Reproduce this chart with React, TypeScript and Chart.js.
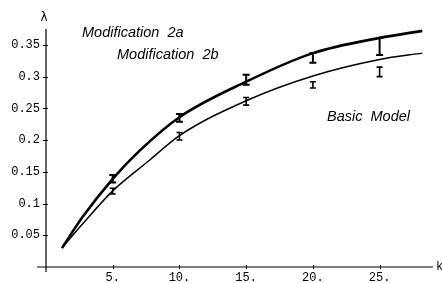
import React, { useEffect, useRef } from "react";
import { Chart, registerables } from "chart.js";

Chart.register(...registerables);

// Modification 2a / 2b (thick curve)
const upperX = [1.2, 2.75, 5, 7.0, 10, 15, 20, 25, 28.2];
const upperY = [0.03, 0.079, 0.139, 0.183, 0.236, 0.292, 0.337, 0.361, 0.372];
// Basic Model (thin curve)
const lowerX = [1.2, 2.75, 5, 7.8, 10, 15, 20, 25, 28.2];
const lowerY = [0.03, 0.068, 0.12, 0.169, 0.207, 0.262, 0.301, 0.327, 0.337];

// error bars
const errX = [5, 10, 15, 20, 25];
const upperErrLo = [0.133, 0.229, 0.287, 0.322, 0.334];
const upperErrHi = [0.145, 0.241, 0.303, 0.337, 0.361];
const lowerErrLo = [0.115, 0.2, 0.255, 0.282, 0.3];
const lowerErrHi = [0.124, 0.212, 0.267, 0.292, 0.315];

const xTickValues = [5, 10, 15, 20, 25];
const xTickLabels = ["5.", "10.", "15.", "20.", "25."];
const yTickValues = [0.05, 0.1, 0.15, 0.2, 0.25, 0.3, 0.35];
const yTickLabels = ["0.05", "0.1", "0.15", "0.2", "0.25", "0.3", "0.35"];

const labelTexts = ["Modification  2a", "Modification  2b", "Basic  Model"];
const yAxisTitle = "λ";
const xAxisTitle = "k";

const MONO = "'Liberation Mono', 'DejaVu Sans Mono', monospace";
const SANS = "'Liberation Sans', Arial, sans-serif";

const decorPlugin = {
  id: "decor",
  afterDatasetsDraw(chart: any) {
    const ctx = chart.ctx;
    const xs = chart.scales.x;
    const ys = chart.scales.y;
    const x0 = xs.getPixelForValue(0);
    const y0 = ys.getPixelForValue(0);
    ctx.save();
    ctx.strokeStyle = "#000";
    ctx.fillStyle = "#000";
    ctx.lineWidth = 1.2;
    // axes
    ctx.beginPath();
    ctx.moveTo(x0 - 9, y0);
    ctx.lineTo(xs.right, y0);
    ctx.moveTo(x0, ys.top);
    ctx.lineTo(x0, y0 + 5);
    ctx.stroke();
    // ticks
    ctx.lineWidth = 1;
    ctx.beginPath();
    yTickValues.forEach((v) => {
      const py = Math.round(ys.getPixelForValue(v)) + 0.5;
      ctx.moveTo(x0 - 3, py);
      ctx.lineTo(x0 + 2, py);
    });
    xTickValues.forEach((v) => {
      const px = Math.round(xs.getPixelForValue(v)) + 0.5;
      ctx.moveTo(px, y0 - 2);
      ctx.lineTo(px, y0 + 2);
    });
    ctx.stroke();
    // error bars
    const drawBar = (x: number, lo: number, hi: number, cap: number, lw: number) => {
      const px = xs.getPixelForValue(x);
      const pl = ys.getPixelForValue(lo);
      const ph = ys.getPixelForValue(hi);
      ctx.lineWidth = lw;
      ctx.beginPath();
      ctx.moveTo(px, pl);
      ctx.lineTo(px, ph);
      ctx.moveTo(px - cap, pl);
      ctx.lineTo(px + cap, pl);
      ctx.moveTo(px - cap, ph);
      ctx.lineTo(px + cap, ph);
      ctx.stroke();
    };
    errX.forEach((x, i) => {
      drawBar(x, upperErrLo[i], upperErrHi[i], 3.5, 2);
      drawBar(x, lowerErrLo[i], lowerErrHi[i], 3, 1.6);
    });
    // texts
    ctx.font = `italic 14.5px ${SANS}`;
    ctx.textAlign = "left";
    ctx.textBaseline = "alphabetic";
    ctx.fillText(labelTexts[0], 82, 37);
    ctx.fillText(labelTexts[1], 117, 59);
    ctx.fillText(labelTexts[2], 327, 121);
    ctx.font = `12px 'DejaVu Sans', sans-serif`;
    ctx.textAlign = "center";
    ctx.fillText(yAxisTitle, x0 - 2, 21);
    ctx.font = `12px ${MONO}`;
    ctx.textAlign = "left";
    ctx.textBaseline = "middle";
    ctx.fillText(xAxisTitle, xs.right + 3, y0);
    ctx.restore();
  },
};

export default function App() {
  const ref = useRef<HTMLCanvasElement | null>(null);
  useEffect(() => {
    if (!ref.current) return;
    const chart = new Chart(ref.current, {
      type: "line",
      data: {
        datasets: [
          {
            data: upperX.map((x, i) => ({ x, y: upperY[i] })),
            borderColor: "#000",
            borderWidth: 2.6,
            pointRadius: 0,
            cubicInterpolationMode: "monotone",
            fill: false,
          },
          {
            data: lowerX.map((x, i) => ({ x, y: lowerY[i] })),
            borderColor: "#000",
            borderWidth: 1.5,
            pointRadius: 0,
            cubicInterpolationMode: "monotone",
            fill: false,
          },
        ],
      },
      options: {
        responsive: false,
        animation: false,
        layout: { padding: { top: 29, right: 9, left: 0, bottom: 0 } },
        plugins: { legend: { display: false }, tooltip: { enabled: false } },
        scales: {
          x: {
            type: "linear",
            min: 0,
            max: 29,
            grid: { display: false, drawTicks: false },
            border: { display: false },
            afterBuildTicks: (s: any) => {
              s.ticks = xTickValues.map((v) => ({ value: v }));
            },
            afterFit: (s: any) => {
              s.height = 16;
            },
            ticks: {
              autoSkip: false,
              maxRotation: 0,
              padding: 4,
              color: "#000",
              font: { family: MONO, size: 12 },
              callback: (v: any) => xTickLabels[xTickValues.indexOf(Number(v))],
            },
          },
          y: {
            type: "linear",
            min: 0,
            max: 0.375,
            grid: { display: false, drawTicks: false },
            border: { display: false },
            afterBuildTicks: (s: any) => {
              s.ticks = yTickValues.map((v) => ({ value: v }));
            },
            afterFit: (s: any) => {
              s.width = 46;
            },
            ticks: {
              autoSkip: false,
              padding: 6,
              color: "#000",
              font: { family: MONO, size: 12 },
              callback: (v: any) => yTickLabels[yTickValues.indexOf(Number(v))],
            },
          },
        },
      } as any,
      plugins: [decorPlugin],
    });
    return () => chart.destroy();
  }, []);
  return (
    <div style={{ position: "absolute", left: 0, top: 0, width: 442, height: 283, background: "#fff" }}>
      <canvas ref={ref} width={442} height={283} style={{ display: "block" }} />
    </div>
  );
}
